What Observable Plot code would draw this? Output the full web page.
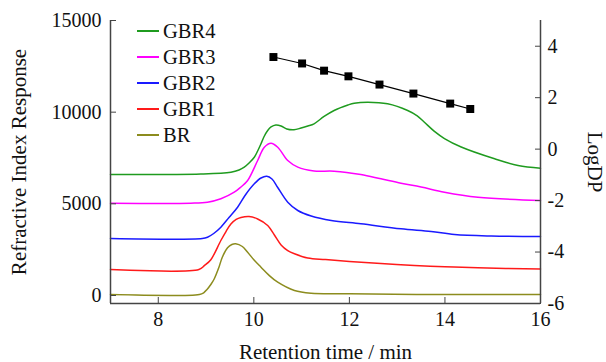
<!DOCTYPE html>
<html><head><meta charset="utf-8">
<script src="https://cdn.jsdelivr.net/npm/d3@7"></script>
<script src="https://cdn.jsdelivr.net/npm/@observablehq/plot@0.6"></script>
<style>
body{margin:0;background:#fff}
#wrap{position:relative;width:606px;height:362px;font-family:"Liberation Serif","Times New Roman",serif}
.leg{position:absolute;left:137px;height:26px;display:flex;align-items:center;font-size:20.5px;color:#111;white-space:nowrap}
.leg span.ln{display:inline-block;width:22px;height:1.6px;margin-right:4px}
</style>
</head><body><div id="wrap"></div>
<script>
// ---- data ----
const seriesNames = ["GBR4", "GBR3", "GBR2", "GBR1", "BR"];
const seriesColors = ["#1f9b1f", "#ff00ff", "#1a1aff", "#ff1a1a", "#8c8c1e"];

const brTime = [7, 8.86, 8.95, 9.02, 9.10, 9.17, 9.27, 9.34, 9.45, 9.54, 9.62, 9.76, 9.87, 10.0, 10.15, 10.32, 10.5, 10.85, 11.2, 12.0, 13.4, 16];
const brRI   = [50, 60, 150, 330, 600, 900, 1545, 2090, 2600, 2780, 2820, 2673, 2362, 1950, 1545, 1100, 725, 273, 125, 100, 60, 50];

const gbr1Time = [7, 8.85, 8.97, 9.10, 9.31, 9.42, 9.52, 9.63, 9.73, 9.90, 10.08, 10.29, 10.43, 10.57, 10.71, 10.85, 11.13, 11.5, 12.0, 12.66, 13.36, 14.0, 14.69, 16];
const gbr1RI   = [1420, 1420, 1640, 1950, 3000, 3500, 3900, 4150, 4255, 4310, 4173, 3818, 3300, 2760, 2450, 2275, 2040, 1960, 1860, 1740, 1640, 1570, 1511, 1445];

const gbr2Time = [7, 8.92, 9.03, 9.16, 9.31, 9.48, 9.66, 9.83, 10.01, 10.15, 10.27, 10.38, 10.50, 10.71, 10.92, 11.20, 11.62, 12.24, 13.08, 13.71, 14.20, 14.97, 16];
const gbr2RI   = [3110, 3110, 3180, 3382, 3726, 4255, 4817, 5510, 6093, 6410, 6508, 6355, 5891, 5089, 4637, 4337, 4091, 3911, 3638, 3491, 3327, 3246, 3218];

const gbr3Time = [7, 8.68, 9.03, 9.31, 9.59, 9.73, 9.87, 10.08, 10.22, 10.36, 10.50, 10.71, 10.92, 11.26, 11.68, 12.24, 12.66, 13.08, 13.50, 13.99, 14.69, 16];
const gbr3RI   = [5035, 5035, 5089, 5275, 5635, 5919, 6273, 7364, 8090, 8308, 8090, 7364, 7000, 6792, 6781, 6600, 6366, 6126, 5919, 5635, 5362, 5182];

const gbr4Time = [7, 8.89, 9.52, 9.69, 9.80, 9.90, 10.01, 10.08, 10.15, 10.21, 10.29, 10.36, 10.46, 10.57, 10.69, 10.84, 10.99, 11.13, 11.26, 11.47, 11.68, 11.97, 12.10, 12.39, 12.80, 13.22, 13.42, 13.57, 13.78, 13.99, 14.34, 15.04, 15.53, 16];
const gbr4RI   = [6600, 6628, 6726, 6846, 6999, 7228, 7544, 7882, 8275, 8646, 9000, 9192, 9301, 9246, 9083, 9039, 9137, 9246, 9366, 9764, 10092, 10392, 10490, 10545, 10457, 10092, 9800, 9450, 8950, 8560, 8100, 7457, 7092, 6944];

const dpTime = [10.41, 11.01, 11.47, 11.98, 12.63, 13.34, 14.11, 14.53];
const logDP  = [3.58, 3.33, 3.05, 2.83, 2.51, 2.16, 1.77, 1.56];

const xTicks = [8, 10, 12, 14, 16];
const leftTicks = [0, 5000, 10000, 15000];
const rightTicks = [-6, -4, -2, 0, 2, 4];

// ---- scales ----
const Y0 = -436, Y1 = 15000, R0 = -6, R1 = 5;
const toLeft = r => Y0 + (r - R0) / (R1 - R0) * (Y1 - Y0);
const fromLeft = v => R0 + (v - Y0) / (Y1 - Y0) * (R1 - R0);

const seriesData = [
  [gbr4Time, gbr4RI], [gbr3Time, gbr3RI], [gbr2Time, gbr2RI], [gbr1Time, gbr1RI], [brTime, brRI]
].map(([t, v], k) => t.map((x, i) => ({t: x, v: v[i], name: seriesNames[k]})));

const dp = dpTime.map((t, i) => ({t, r: logDP[i]}));
const axisColor = "#444";

const chart = Plot.plot({
  width: 606, height: 362,
  marginLeft: 110, marginRight: 66, marginTop: 20, marginBottom: 59,
  style: {fontFamily: "'Liberation Serif','Times New Roman',serif", fontSize: "20px", color: "#111", background: "white", overflow: "visible"},
  x: {domain: [7, 16]},
  y: {domain: [Y0, Y1]},
  marks: [
    ...seriesData.slice().reverse().map((d) => Plot.line(d, {x: "t", y: "v", stroke: seriesColors[seriesNames.indexOf(d[0].name)], strokeWidth: 1.5, curve: "catmull-rom"})),
    Plot.line(dp, {x: "t", y: d => toLeft(d.r), stroke: "black", strokeWidth: 1.2}),
    Plot.dot(dp, {x: "t", y: d => toLeft(d.r), symbol: "square", r: 4.5, fill: "black", stroke: "none"}),
    Plot.ruleX([7, 16], {stroke: axisColor, strokeWidth: 1.5}),
    Plot.ruleY([Y0], {stroke: axisColor, strokeWidth: 1.5}),
    Plot.axisX({ticks: xTicks, tickSize: -6, tickPadding: 14, stroke: axisColor, label: null}),
    Plot.axisY({ticks: leftTicks, tickSize: -6, tickPadding: 15, stroke: axisColor, tickFormat: d => String(d), label: null}),
    Plot.axisY(rightTicks.map(toLeft), {anchor: "right", tickSize: -6, tickPadding: 13, stroke: axisColor, tickFormat: d => String(Math.round(fromLeft(d))), label: null}),
    Plot.text(["Retention time / min"], {frameAnchor: "bottom", dy: 55, lineAnchor: "bottom", textAnchor: "middle", fontSize: 21}),
    Plot.text(["Refractive Index Response"], {frameAnchor: "left", dx: -91, rotate: -90, lineAnchor: "middle", textAnchor: "middle", fontSize: 21}),
    Plot.text(["LogDP"], {frameAnchor: "right", dx: 54, rotate: 90, lineAnchor: "middle", textAnchor: "middle", fontSize: 21})
  ]
});

const wrap = document.getElementById("wrap");
wrap.appendChild(chart);
const rowY = [31, 57, 83, 109, 135];
seriesNames.forEach((n, i) => {
  const el = document.createElement("div");
  el.className = "leg";
  el.style.top = (rowY[i] - 13) + "px";
  const ln = document.createElement("span");
  ln.className = "ln";
  ln.style.background = seriesColors[i];
  el.appendChild(ln);
  el.appendChild(document.createTextNode(n));
  wrap.appendChild(el);
});
</script>
</body></html>
